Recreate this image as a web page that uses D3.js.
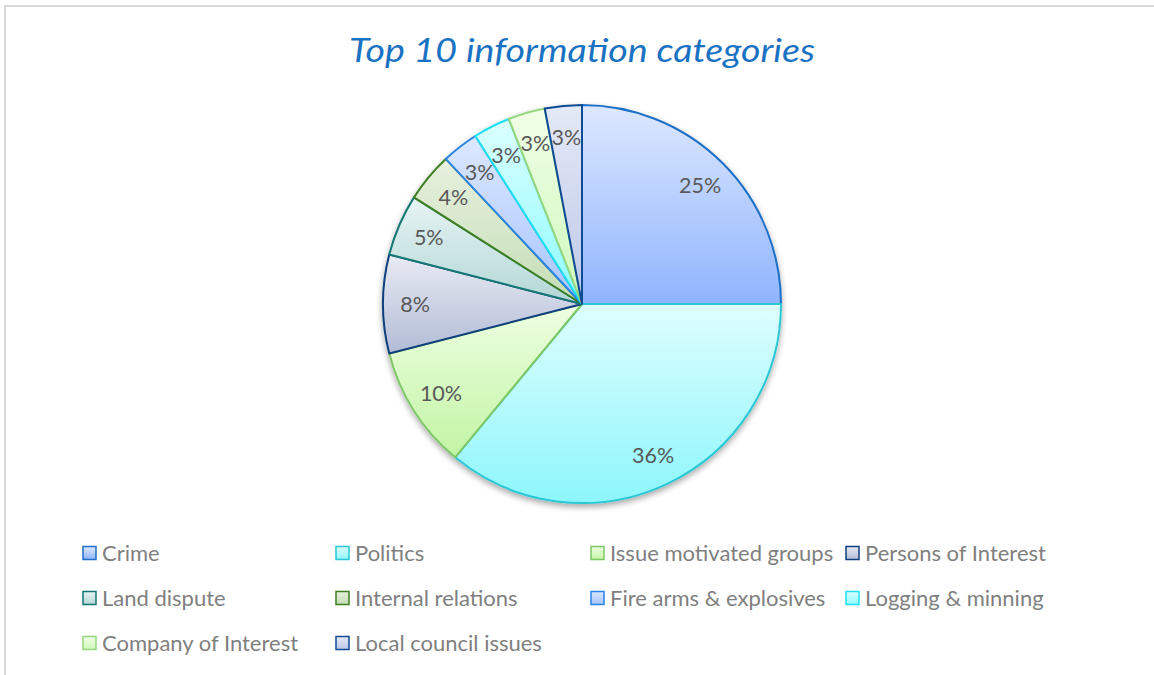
<!DOCTYPE html>
<html>
<head>
<meta charset="utf-8">
<script src="https://cdn.jsdelivr.net/npm/d3@7"></script>
<style>
    body { margin: 0; background: #fff; }
    svg { display: block; }
</style>
</head>
<body>
<svg id="chart"></svg>
<script>
const categories = [
    'Crime', 'Politics', 'Issue motivated groups', 'Persons of Interest',
    'Land dispute', 'Internal relations', 'Fire arms & explosives',
    'Logging & minning', 'Company of Interest', 'Local council issues',
];
const shares = [25, 36, 10, 8, 5, 4, 3, 3, 3, 3];
const strokeColors = [
    '#1f6fc5', '#2ac8d4', '#7dc766', '#0e3f7c', '#137775',
    '#3d7f21', '#2a84e5', '#1fe0ef', '#95d67e', '#0d4b94',
];
const topColors = [
    '#dde8ff', '#defefe', '#eeffe2', '#e9ebf4', '#e7f4f4',
    '#e7f0de', '#dce8ff', '#dcffff', '#f1ffe7', '#e4e9f7',
];
const bottomColors = [
    '#8fb4fe', '#8df6fb', '#c2f4a4', '#b2bcd6', '#b3d6d6',
    '#c4ddb6', '#a6c4fe', '#8cfbff', '#cef7bb', '#bdc8e7',
];

const width = 1154;
const height = 675;
const cx = 582, cy = 304, radius = 199;

const svg = d3.select('#chart').attr('width', width).attr('height', height);
const defs = svg.append('defs');

categories.forEach((c, i) => {
    const g = defs.append('linearGradient')
        .attr('id', 'grad' + i)
        .attr('x1', 0).attr('y1', 0).attr('x2', 0).attr('y2', 1);
    g.append('stop').attr('offset', '0%').attr('stop-color', topColors[i]);
    g.append('stop').attr('offset', '100%').attr('stop-color', bottomColors[i]);
});

const shadow = defs.append('filter').attr('id', 'shadow')
    .attr('x', '-20%').attr('y', '-20%').attr('width', '140%').attr('height', '140%');
shadow.append('feGaussianBlur').attr('in', 'SourceAlpha').attr('stdDeviation', 3);
shadow.append('feOffset').attr('dx', 0).attr('dy', 3).attr('result', 'blur');
shadow.append('feComponentTransfer').append('feFuncA').attr('type', 'linear').attr('slope', 0.35);
const merge = shadow.append('feMerge');
merge.append('feMergeNode');
merge.append('feMergeNode').attr('in', 'SourceGraphic');

// chart frame (only top and left edges show in the picture)
svg.append('rect')
    .attr('x', 5).attr('y', 6)
    .attr('width', width + 10).attr('height', height + 10)
    .attr('fill', 'none')
    .attr('stroke', '#d9d9d9')
    .attr('stroke-width', 2);

svg.append('text')
    .attr('x', cx)
    .attr('y', 62)
    .attr('text-anchor', 'middle')
    .attr('font-family', 'Lato, "Open Sans", sans-serif')
    .attr('font-style', 'italic')
    .attr('font-size', 32)
    .attr('fill', '#1a72c2')
    .attr('textLength', 466)
    .attr('lengthAdjust', 'spacingAndGlyphs')
    .text('Top 10 information categories');

const pie = d3.pie().sort(null).value(d => d);
const arcs = pie(shares);
const arc = d3.arc().innerRadius(0).outerRadius(radius);
const labelArc = d3.arc().innerRadius(167).outerRadius(167);

const pieG = svg.append('g')
    .attr('transform', `translate(${cx},${cy})`)
    .attr('filter', 'url(#shadow)');

pieG.selectAll('path')
    .data(arcs)
    .join('path')
    .attr('d', arc)
    .attr('fill', (d, i) => `url(#grad${i})`)
    .attr('stroke', (d, i) => strokeColors[i])
    .attr('stroke-width', 2)
    .attr('stroke-linejoin', 'round');

svg.append('g')
    .attr('transform', `translate(${cx},${cy})`)
    .selectAll('text')
    .data(arcs)
    .join('text')
    .attr('transform', d => `translate(${labelArc.centroid(d)})`)
    .attr('text-anchor', 'middle')
    .attr('dy', '0.35em')
    .attr('font-family', 'Lato, "Open Sans", sans-serif')
    .attr('font-size', 21.5)
    .attr('fill', '#595959')
    .text(d => d.data + '%');

// legend: 4 columns, 3 rows
const colX = [83, 336, 591, 846];
const rowY = [553, 598, 643];
const legend = svg.append('g')
    .selectAll('g')
    .data(categories)
    .join('g')
    .attr('transform', (d, i) => `translate(${colX[i % 4]},${rowY[Math.floor(i / 4)]})`);

legend.append('rect')
    .attr('x', 0).attr('y', -6.5)
    .attr('width', 13).attr('height', 13)
    .attr('fill', (d, i) => `url(#grad${i})`)
    .attr('stroke', (d, i) => strokeColors[i])
    .attr('stroke-width', 1.5);

legend.append('text')
    .attr('x', 19)
    .attr('dy', '0.35em')
    .attr('font-family', 'Lato, "Open Sans", sans-serif')
    .attr('font-size', 22)
    .attr('fill', '#7f7f7f')
    .text(d => d);
</script>
</body>
</html>
